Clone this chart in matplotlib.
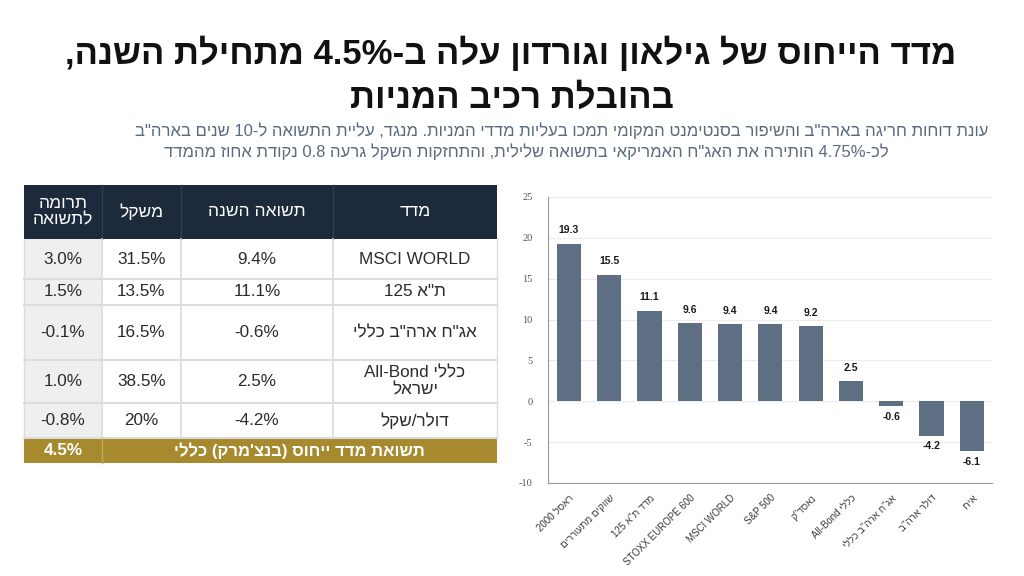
import re
import matplotlib
matplotlib.use("Agg")
import matplotlib.pyplot as plt
from matplotlib.patches import Rectangle

# ---------------- data ----------------
title_lines = ['מדד הייחוס של גילאון וגורדון עלה ב-4.5% מתחילת השנה,', 'בהובלת רכיב המניות']
subtitle_lines = ['עונת דוחות חריגה בארה"ב והשיפור בסנטימנט המקומי תמכו בעליות מדדי המניות. מנגד, עליית התשואה ל-10 שנים בארה"ב',
                  'לכ-4.75% הותירה את האג"ח האמריקאי בתשואה שלילית, והתחזקות השקל גרעה 0.8 נקודת אחוז מהמדד']

categories = ['ראסל 2000', 'שווקים מתעוררים', 'מדד ת"א 125', 'STOXX EUROPE 600', 'MSCI WORLD',
              'S&P 500', 'נאסד"ק', 'כללי All-Bond', 'אג"ח ארה"ב כללי', 'דולר ארה"ב', 'אירו']
values = [19.3, 15.5, 11.1, 9.6, 9.4, 9.4, 9.2, 2.5, -0.6, -4.2, -6.1]
yticks = [-10, -5, 0, 5, 10, 15, 20, 25]

table_header = ['מדד', 'תשואה השנה', 'משקל', 'תרומה\nלתשואה']
table_names = ['MSCI WORLD', 'ת"א 125', 'אג"ח ארה"ב כללי', 'כללי All-Bond\nישראל', 'דולר/שקל']
table_returns = ['9.4%', '11.1%', '-0.6%', '2.5%', '-4.2%']
table_weights = ['31.5%', '13.5%', '16.5%', '38.5%', '20%']
table_contrib = ['3.0%', '1.5%', '-0.1%', '1.0%', '-0.8%']
total_label = "תשואת מדד ייחוס (בנצ'מרק) כללי"
total_value = '4.5%'

# ---------------- helpers ----------------
LTR_RUN = re.compile(r"[A-Za-z0-9](?:[A-Za-z0-9.,%&/\- ]*[A-Za-z0-9%])?")
MIRROR = {'(': ')', ')': '('}


def rtl(s):
    out_lines = []
    for line in s.split('\n'):
        tokens = []
        i = 0
        for m in LTR_RUN.finditer(line):
            tokens.extend(MIRROR.get(c, c) for c in line[i:m.start()])
            tokens.append(m.group())
            i = m.end()
        tokens.extend(MIRROR.get(c, c) for c in line[i:])
        out_lines.append(''.join(reversed(tokens)))
    return '\n'.join(out_lines)


HEB = ['Liberation Sans', 'DejaVu Sans']

W, H = 1024, 576
fig = plt.figure(figsize=(W / 100, H / 100), dpi=100)
fig.patch.set_facecolor('white')

# ---------------- title ----------------
title_pos = [(511, 53), (512, 98)]
for line, (cx, y) in zip(title_lines, title_pos):
    fig.text(cx / W, 1 - y / H, rtl(line), ha='center', va='center', fontsize=25,
             fontweight='bold', family=HEB, color='#111111')
sub_pos = [(562, 131), (526, 152)]
for line, (cx, y) in zip(subtitle_lines, sub_pos):
    fig.text(cx / W, 1 - y / H, rtl(line), ha='center', va='center', fontsize=12.0,
             family=HEB, color='#5b6a80')

# ---------------- table ----------------
tax = fig.add_axes([0, 0, 1, 1])
tax.set_xlim(0, W)
tax.set_ylim(H, 0)
tax.axis('off')

col_edges = [24, 102, 181, 333, 497]          # left -> right
row_edges = [185, 239, 279, 305, 360, 403, 438, 463]
header_col = '#1c2a3b'
gold = '#a68a2d'
line_col = '#dcdcdc'

# header
tax.add_patch(Rectangle((col_edges[0], row_edges[0]), col_edges[-1] - col_edges[0],
                        row_edges[1] - row_edges[0], facecolor=header_col, edgecolor='none'))
cols_rtl = [(col_edges[3], col_edges[4]), (col_edges[2], col_edges[3]),
            (col_edges[1], col_edges[2]), (col_edges[0], col_edges[1])]
for (x0, x1), txt in zip(cols_rtl, table_header):
    tax.text((x0 + x1) / 2, (row_edges[0] + row_edges[1]) / 2, rtl(txt), ha='center', va='center',
             color='white', fontsize=12.5, family=HEB, linespacing=1.15)
for x in col_edges[1:4]:
    tax.plot([x, x], [row_edges[0], row_edges[1]], color='#2f3d4e', lw=1)

# body rows
for r in range(len(table_names)):
    y0, y1 = row_edges[r + 1], row_edges[r + 2]
    tax.add_patch(Rectangle((col_edges[0], y0), col_edges[1] - col_edges[0], y1 - y0,
                            facecolor='#efefef', edgecolor='none'))
    cells = [rtl(table_names[r]), table_returns[r], table_weights[r], table_contrib[r]]
    for (x0, x1), txt in zip(cols_rtl, cells):
        tax.text((x0 + x1) / 2, (y0 + y1) / 2, txt, ha='center', va='center',
                 color='#2b2b2b', fontsize=12.3, family=HEB, linespacing=1.2)
    tax.plot([col_edges[0], col_edges[-1]], [y1, y1], color=line_col, lw=1.5)
for x in col_edges[1:4]:
    tax.plot([x, x], [row_edges[1], row_edges[-2]], color=line_col, lw=1.2)
tax.plot([col_edges[0], col_edges[0]], [row_edges[1], row_edges[-2]], color=line_col, lw=1)
tax.plot([col_edges[-1], col_edges[-1]], [row_edges[1], row_edges[-2]], color=line_col, lw=1)

# footer
fy0, fy1 = row_edges[-2], row_edges[-1]
tax.add_patch(Rectangle((col_edges[0], fy0), col_edges[-1] - col_edges[0], fy1 - fy0,
                        facecolor=gold, edgecolor='none'))
tax.plot([col_edges[1], col_edges[1]], [fy0, fy1], color='#c2ab5e', lw=1)
tax.text((col_edges[0] + col_edges[1]) / 2, (fy0 + fy1) / 2, total_value, ha='center', va='center',
         color='white', fontsize=12.3, fontweight='bold', family=HEB)
tax.text((col_edges[1] + col_edges[-1]) / 2, (fy0 + fy1) / 2, rtl(total_label), ha='center',
         va='center', color='white', fontsize=12, fontweight='bold', family=HEB)

# ---------------- bar chart ----------------
ax = fig.add_axes([548 / W, 1 - 483 / H, (992 - 548) / W, (483 - 197) / H])
x = list(range(len(values)))
ax.bar(x, values, width=0.6, color='#5e6f84', zorder=3)
ax.set_xlim(-0.52, len(values) - 0.5)
ax.set_ylim(-10, 25)
ax.set_yticks(yticks)
ax.set_yticklabels([str(v) for v in yticks], family='Liberation Serif', fontsize=7.5, color='#555555')
ax.tick_params(axis='y', length=0, pad=11)
ax.tick_params(axis='x', length=0, pad=7)
ax.grid(axis='y', color='#ececec', lw=0.8, zorder=0)
for s in ['top', 'right']:
    ax.spines[s].set_visible(False)
ax.spines['left'].set_color('#9a9a9a')
ax.spines['bottom'].set_color('#9a9a9a')
ax.set_xticks(x)
ax.set_xticklabels([rtl(c) for c in categories], rotation=45, ha='right', rotation_mode='anchor',
                   family=HEB, fontsize=7, color='#3a3a3a')
for xi, v in zip(x, values):
    if v >= 0:
        ax.annotate(f'{v:.1f}', (xi, v), xytext=(0, 6), textcoords='offset points', ha='center',
                    va='bottom', fontsize=7.5, fontweight='bold', color='#1a1a1a', family=HEB)
    else:
        ax.annotate(f'{v:.1f}', (xi, v), xytext=(0, -4), textcoords='offset points', ha='center',
                    va='top', fontsize=7.5, fontweight='bold', color='#1a1a1a', family=HEB)

fig.savefig('out.png', dpi=100, facecolor='white')
